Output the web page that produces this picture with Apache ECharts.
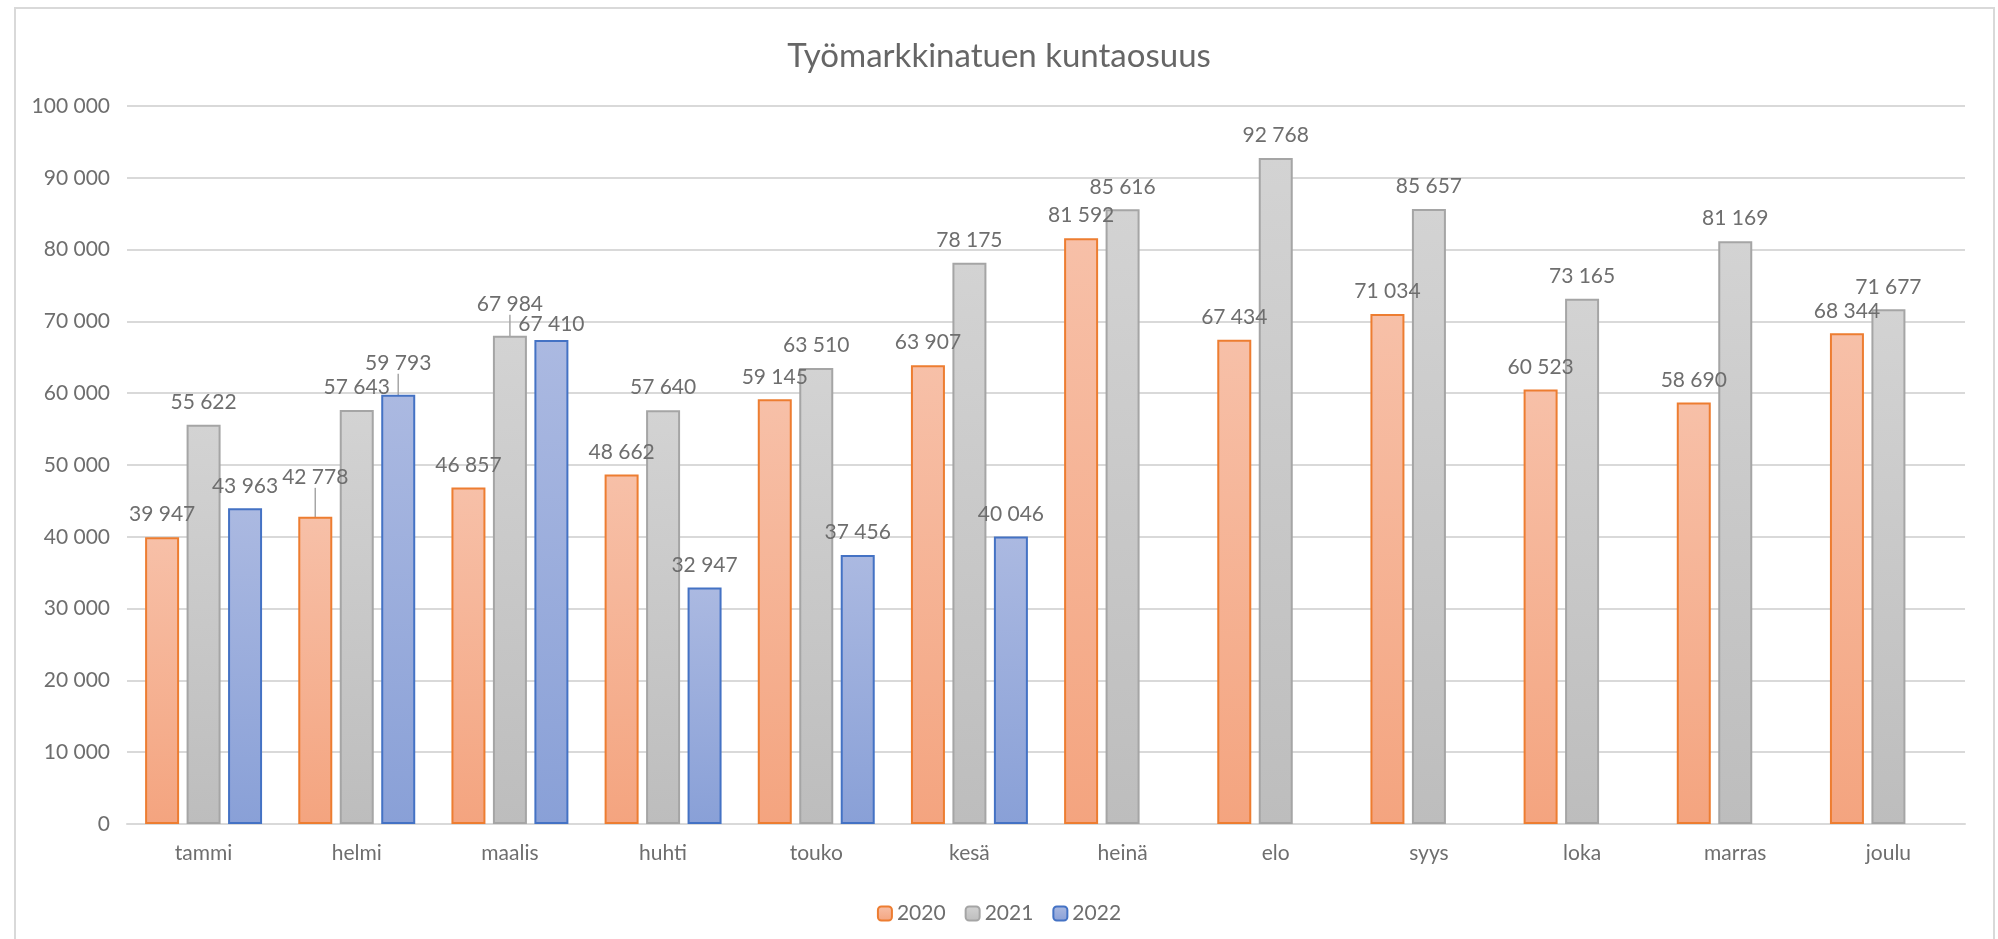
<!DOCTYPE html>
<html>
<head>
<meta charset="UTF-8">
<title>Työmarkkinatuen kuntaosuus</title>
<script src="https://cdn.jsdelivr.net/npm/echarts@6/dist/echarts.min.js"></script>
<style>
  html, body { margin: 0; padding: 0; background: #fff; }
  #chart { width: 1998px; height: 939px; }
</style>
</head>
<body>
<div id="chart"></div>
<script type="text/javascript">
var months = ['tammi', 'helmi', 'maalis', 'huhti', 'touko', 'kesä', 'heinä', 'elo', 'syys', 'loka', 'marras', 'joulu'];
var years = ['2020', '2021', '2022'];
var v2020 = [39947, 42778, 46857, 48662, 59145, 63907, 81592, 67434, 71034, 60523, 58690, 68344];
var v2021 = [55622, 57643, 67984, 57640, 63510, 78175, 85616, 92768, 85657, 73165, 81169, 71677];
var v2022 = [43963, 59793, 67410, 32947, 37456, 40046, null, null, null, null, null, null];

// labels that were dragged a bit in the original (series-dataIndex -> dy, leader line?)
var labelNudge = { '0-1': [-17, true], '2-1': [-9, true], '1-2': [-9, true], '2-2': [7, false] };

var font = 'Lato';
var textColor = '#6e6e6e';

function fmt(v) {
    return String(v).replace(/\B(?=(\d{3})+(?!\d))/g, ' ');
}

function barSeries(idx, data, top, bottom, border) {
    return {
        name: years[idx],
        type: 'bar',
        data: data.map(function (v, i) {
            var n = labelNudge[idx + '-' + i];
            if (n && n[1]) {
                return { value: v, labelLine: { show: true } };
            }
            return v;
        }),
        barWidth: 34,
        barGap: '22%',
        itemStyle: {
            color: new echarts.graphic.LinearGradient(0, 0, 0, 1, [
                { offset: 0, color: top },
                { offset: 1, color: bottom }
            ]),
            borderColor: border,
            borderWidth: 2
        },
        label: {
            show: true,
            position: 'top',
            distance: 12,
            color: textColor,
            fontFamily: font,
            fontSize: 21,
            formatter: function (p) { return fmt(p.value); }
        },
        labelLine: {
            show: false,
            lineStyle: { color: '#a6a6a6', width: 1.5 }
        },
        emphasis: { disabled: true }
    };
}

var myChart = echarts.init(document.getElementById('chart'));

var option = {
    animation: false,
    backgroundColor: '#fff',
    title: {
        text: 'Työmarkkinatuen kuntaosuus',
        left: 'center',
        top: 35,
        textStyle: { color: '#666', fontFamily: font, fontSize: 33, fontWeight: 'normal' }
    },
    legend: {
        data: years,
        left: 'center',
        top: 898,
        itemWidth: 14,
        itemHeight: 14,
        itemGap: 19,
        textStyle: { color: textColor, fontFamily: font, fontSize: 21 }
    },
    grid: { left: 127, right: 33, top: 106, bottom: 115 },
    xAxis: {
        type: 'category',
        data: months,
        axisTick: { show: false },
        axisLine: { lineStyle: { color: '#d9d9d9', width: 2 } },
        axisLabel: { color: textColor, fontFamily: font, fontSize: 21, margin: 19 }
    },
    yAxis: {
        type: 'value',
        min: 0,
        max: 100000,
        interval: 10000,
        axisLine: { show: false },
        axisTick: { show: false },
        splitLine: { lineStyle: { color: '#d9d9d9', width: 2 } },
        axisLabel: {
            color: textColor, fontFamily: font, fontSize: 21, margin: 17,
            formatter: fmt
        }
    },
    labelLayout: function (p) {
        var n = labelNudge[p.seriesIndex + '-' + p.dataIndex];
        return n ? { dy: n[0] } : {};
    },
    graphic: [{
        type: 'rect',
        shape: { x: 15, y: 8, width: 1979, height: 960 },
        style: { fill: null, stroke: '#d9d9d9', lineWidth: 2 },
        silent: true,
        z: -1
    }],
    series: [
        barSeries(0, v2020, '#f7c0a8', '#f4a47f', '#ed7d31'),
        barSeries(1, v2021, '#d3d3d3', '#bdbdbd', '#a5a5a5'),
        barSeries(2, v2022, '#abb9e1', '#89a0d7', '#4472c4')
    ]
};

myChart.setOption(option);
</script>
</body>
</html>
